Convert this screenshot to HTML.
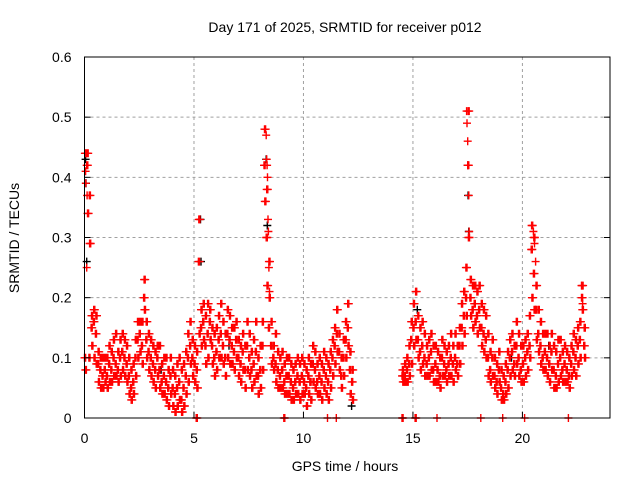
<!DOCTYPE html>
<html><head><meta charset="utf-8"><style>
body{margin:0;background:#fff;}
svg{display:block;font-family:"Liberation Sans",sans-serif;}
</style></head><body>
<svg id="chart" width="640" height="480">
<text x="345" y="32" text-anchor="middle" font-size="14">Day 171 of 2025, SRMTID for receiver p012</text>
<text transform="translate(19,238) rotate(-90)" text-anchor="middle" font-size="14">SRMTID / TECUs</text>
<text x="345" y="471" text-anchor="middle" font-size="14">GPS time / hours</text>
<g id="grid"></g>
<g id="marks"></g>
<g id="axes"></g>
</svg>
<script>
const yTicks=[0,0.1,0.2,0.3,0.4,0.5,0.6];
const yTickLabels=["0","0.1","0.2","0.3","0.4","0.5","0.6"];
const xTicks=[0,5,10,15,20];
const xTickLabels=["0","5","10","15","20"];
const segAStart=0.0, segBStart=14.5, stepH=0.1;
const segAMid=[0.10,0.42,0.10,0.15,0.16,0.14,0.09,0.08,0.07,0.08,0.07,0.09,0.08,0.10,0.09,0.08,0.10,0.11,0.10,0.09,0.07,0.05,0.06,0.10,0.13,0.14,0.12,0.20,0.13,0.11,0.10,0.09,0.08,0.10,0.08,0.06,0.07,0.06,0.05,0.07,0.05,0.04,0.05,0.06,0.03,0.05,0.07,0.10,0.12,0.10,0.09,0.08,0.26,0.15,0.16,0.12,0.14,0.16,0.12,0.10,0.11,0.13,0.14,0.12,0.10,0.14,0.13,0.12,0.11,0.13,0.10,0.09,0.11,0.08,0.12,0.10,0.08,0.09,0.11,0.07,0.08,0.12,0.42,0.30,0.15,0.12,0.10,0.09,0.08,0.07,0.08,0.06,0.07,0.07,0.06,0.05,0.06,0.07,0.06,0.07,0.06,0.05,0.07,0.06,0.09,0.08,0.06,0.07,0.06,0.08,0.07,0.06,0.08,0.10,0.12,0.14,0.11,0.07,0.10,0.13,0.15,0.08,0.06];
const segAHi=[0.44,0.44,0.37,0.17,0.18,0.17,0.11,0.10,0.10,0.10,0.10,0.12,0.11,0.13,0.14,0.11,0.13,0.14,0.13,0.12,0.10,0.08,0.09,0.13,0.16,0.16,0.16,0.23,0.16,0.14,0.13,0.12,0.11,0.12,0.12,0.09,0.10,0.10,0.08,0.10,0.08,0.07,0.09,0.10,0.08,0.09,0.11,0.14,0.16,0.13,0.12,0.11,0.33,0.18,0.19,0.17,0.19,0.18,0.15,0.14,0.15,0.17,0.19,0.16,0.14,0.18,0.17,0.15,0.15,0.16,0.13,0.12,0.14,0.12,0.16,0.14,0.11,0.13,0.16,0.10,0.12,0.16,0.48,0.38,0.26,0.16,0.12,0.14,0.11,0.10,0.11,0.09,0.10,0.10,0.09,0.08,0.09,0.10,0.09,0.10,0.09,0.08,0.10,0.09,0.12,0.11,0.09,0.10,0.09,0.11,0.10,0.09,0.11,0.13,0.15,0.18,0.14,0.10,0.13,0.16,0.19,0.11,0.08];
const segALo=[0.08,0.34,0.29,0.12,0.10,0.09,0.06,0.05,0.05,0.06,0.05,0.06,0.06,0.07,0.07,0.06,0.07,0.08,0.07,0.06,0.04,0.03,0.04,0.07,0.10,0.11,0.09,0.18,0.10,0.08,0.07,0.06,0.05,0.07,0.05,0.04,0.04,0.03,0.02,0.04,0.02,0.01,0.02,0.03,0.01,0.02,0.04,0.06,0.09,0.07,0.06,0.05,0.14,0.12,0.13,0.09,0.10,0.13,0.09,0.07,0.08,0.10,0.10,0.09,0.07,0.10,0.09,0.09,0.08,0.10,0.07,0.06,0.08,0.05,0.08,0.07,0.05,0.06,0.07,0.04,0.05,0.08,0.36,0.22,0.20,0.09,0.08,0.06,0.05,0.05,0.05,0.04,0.04,0.04,0.03,0.03,0.04,0.04,0.03,0.04,0.04,0.02,0.04,0.03,0.06,0.05,0.04,0.04,0.03,0.05,0.04,0.03,0.05,0.07,0.09,0.11,0.08,0.05,0.07,0.10,0.12,0.04,0.03];
const segBMid=[0.07,0.07,0.08,0.09,0.13,0.15,0.16,0.13,0.11,0.12,0.10,0.09,0.10,0.11,0.08,0.09,0.08,0.07,0.10,0.09,0.08,0.09,0.10,0.09,0.10,0.09,0.12,0.15,0.17,0.20,0.42,0.20,0.18,0.19,0.17,0.18,0.15,0.14,0.13,0.10,0.08,0.10,0.07,0.06,0.08,0.05,0.04,0.06,0.08,0.10,0.11,0.09,0.12,0.10,0.08,0.09,0.10,0.11,0.12,0.28,0.24,0.18,0.14,0.12,0.10,0.11,0.10,0.09,0.11,0.08,0.07,0.09,0.10,0.08,0.09,0.08,0.07,0.09,0.11,0.10,0.12,0.13,0.20,0.12];
const segBHi=[0.08,0.09,0.10,0.12,0.16,0.19,0.21,0.17,0.15,0.16,0.14,0.12,0.13,0.14,0.12,0.12,0.11,0.10,0.13,0.12,0.11,0.12,0.14,0.12,0.14,0.12,0.15,0.19,0.21,0.25,0.51,0.23,0.22,0.22,0.21,0.22,0.19,0.18,0.17,0.14,0.11,0.13,0.10,0.09,0.11,0.08,0.07,0.09,0.11,0.13,0.14,0.12,0.16,0.14,0.12,0.12,0.13,0.14,0.17,0.32,0.30,0.22,0.18,0.16,0.14,0.14,0.14,0.12,0.14,0.12,0.11,0.13,0.13,0.11,0.12,0.11,0.10,0.12,0.14,0.13,0.15,0.16,0.22,0.15];
const segBLo=[0.06,0.06,0.06,0.07,0.09,0.12,0.13,0.10,0.08,0.09,0.07,0.07,0.07,0.08,0.06,0.06,0.06,0.05,0.07,0.07,0.06,0.07,0.07,0.06,0.08,0.07,0.09,0.12,0.14,0.17,0.30,0.17,0.15,0.16,0.14,0.15,0.12,0.11,0.10,0.07,0.06,0.07,0.05,0.04,0.06,0.03,0.03,0.04,0.05,0.07,0.08,0.07,0.09,0.07,0.06,0.06,0.07,0.08,0.10,0.20,0.18,0.13,0.11,0.09,0.08,0.08,0.07,0.06,0.08,0.05,0.05,0.06,0.07,0.06,0.06,0.06,0.05,0.07,0.08,0.07,0.09,0.10,0.18,0.10];
const extraT=[0.05,0.06,0.1,0.12,8.3,8.32,8.34,8.36,8.38,8.4,8.42,8.45,17.45,17.47,17.5,17.52,17.55,17.57,20.5,20.55,20.6,22.7,22.75];
const extraV=[0.41,0.39,0.25,0.37,0.47,0.43,0.42,0.40,0.33,0.31,0.25,0.21,0.51,0.49,0.46,0.42,0.37,0.31,0.31,0.29,0.26,0.22,0.19];
const blackT=[0.05,0.07,0.1,5.3,5.32,8.3,8.35,12.2,17.5,17.52,17.55,15.2,3.5,6.6,10.3,19.5,21.2];
const blackV=[0.43,0.39,0.26,0.33,0.26,0.43,0.32,0.02,0.42,0.37,0.31,0.18,0.08,0.12,0.06,0.10,0.12];
const zeroT=[5.1,5.15,9.1,9.15,11.1,11.5,14.5,14.55,15.1,15.15,16.1,18.1,19.1,20.1,22.1];

const X0=84.5,X1=610,Y0=418,Y1=57;
const xs=h=>X0+h*(X1-X0)/24;
const ys=v=>Y0-v*(Y0-Y1)/0.6;
const NS="http://www.w3.org/2000/svg";
function el(tag,attrs,parent){const e=document.createElementNS(NS,tag);for(const k in attrs)e.setAttribute(k,attrs[k]);parent.appendChild(e);return e;}
const grid=document.getElementById('grid'),marks=document.getElementById('marks'),axes=document.getElementById('axes');
yTicks.forEach((v,i)=>{
  if(v>0&&v<0.6){const g=el('line',{x1:X0,x2:X1,y1:ys(v),y2:ys(v),stroke:'#a0a0a0','stroke-dasharray':'3,3'},grid);
  
  }
  const t=el('line',{x1:X0,x2:X0+6,y1:ys(v),y2:ys(v),stroke:'#000'},axes);
  
  
  const t2=el('line',{x1:X1-6,x2:X1,y1:ys(v),y2:ys(v),stroke:'#000'},axes);
  
  
  const l=el('text',{x:X0-13,y:ys(v)+5,'text-anchor':'end','font-size':'14'},axes);
  l.textContent=yTickLabels[i];
  
  
});
xTicks.forEach((h,i)=>{
  if(h>0){const g=el('line',{x1:xs(h),x2:xs(h),y1:Y1,y2:Y0,stroke:'#a0a0a0','stroke-dasharray':'3,3'},grid);
  
  }
  const t=el('line',{x1:xs(h),x2:xs(h),y1:Y0,y2:Y0-6,stroke:'#000'},axes);
  
  
  const l=el('text',{x:xs(h),y:Y0+25,'text-anchor':'middle','font-size':'14'},axes);
  l.textContent=xTickLabels[i];
  
  
});
const border=el('rect',{x:X0,y:Y1,width:X1-X0,height:Y0-Y1,fill:'none',stroke:'#000'},axes);


function plus(h,v,color,name){
  const x=xs(h),y=ys(v);
  const p=el('path',{d:`M${(x-4).toFixed(1)} ${y.toFixed(1)}h8M${x.toFixed(1)} ${(y-4).toFixed(1)}v8`,stroke:color,'stroke-width':'1.4',fill:'none'},marks);
  
  
}
blackT.forEach((h,i)=>plus(h,blackV[i],'#000','black-point'));
function seg(start,mid,hi,lo){
  mid.forEach((v,i)=>{plus(start+i*stepH,v,'#f00','red-point');plus(start+i*stepH+0.05,v,'#f00','red-point');});
  hi.forEach((v,i)=>{plus(start+i*stepH+0.02,v,'#f00','red-point');plus(start+i*stepH+0.07,v,'#f00','red-point');});
  lo.forEach((v,i)=>{plus(start+i*stepH+0.035,v,'#f00','red-point');plus(start+i*stepH+0.085,v,'#f00','red-point');});
}
seg(segAStart,segAMid,segAHi,segALo);
seg(segBStart,segBMid,segBHi,segBLo);
extraT.forEach((h,i)=>plus(h,extraV[i],'#f00','red-point'));
zeroT.forEach(h=>plus(h,0,'#f00','zero-point'));
</script>
</body></html>
